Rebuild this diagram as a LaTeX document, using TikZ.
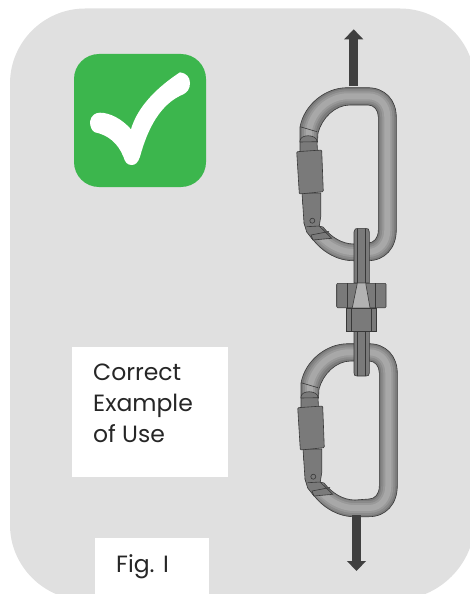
\documentclass[tikz,border=0pt]{standalone}
\usepackage{fontspec}
\setmainfont{Poppins}
\usepackage{xcolor}
\usetikzlibrary{arrows.meta,positioning}
\definecolor{panelgray}{HTML}{E0E0E0}
\definecolor{okgreen}{HTML}{3CB64D}
\definecolor{pullgray}{HTML}{404040}

\begin{document}
\begin{tikzpicture}[
    x=1pt,
    y=-1pt,
    panel/.style={fill=panelgray},
    badge/.style={fill=okgreen, rounded corners=25pt},
    tick/.style={fill=white},
    labelbox/.style={fill=white},
    label/.style={
      anchor=north west,
      align=left,
      inner sep=0pt,
      text=black!85,
      font=\fontsize{23.5}{31}\selectfont
    },
    pull/.style={
      -{Triangle[length=10pt,width=18.5pt]},
      line width=9.3pt,
      draw=pullgray
    },
    outline/.style={draw=black!78, line width=0.6pt},
    metal/.style={
      outline,
      left color=black!52,
      middle color=black!30,
      right color=black!52
    },
    carabiner/.pic={
      \def\bandpath{(300,142) -- (300,127) .. controls (304,105) and (325,87.7) .. (347,87.7)
        -- (368,87.7) .. controls (385,87.7) and (396.3,100) .. (396.3,117)
        -- (396.3,230) .. controls (396.3,248) and (385,260.7) .. (368,260.7)
        -- (353,260.7) .. controls (333,260.7) and (312,246) .. (304,223)
        -- (323,227) .. controls (331,237) and (342,244) .. (354,244)
        -- (368,243) .. controls (374,243) and (378.3,238) .. (378.3,230)
        -- (378.3,117) .. controls (378.3,110) and (374,105) .. (368,105)
        -- (350,105) .. controls (335,105) and (322,118) .. (318,133) -- (317.5,142) -- cycle}
      \fill[black!52] \bandpath;
      \begin{scope}
        \clip \bandpath;
        \foreach \wd/\shade in {14/46, 10/40, 6/34} {
          \draw[black!\shade, line width=\wd pt]
            (309,142) -- (309,130) .. controls (313,110) and (330,96.3) .. (348,96.3)
            -- (368,96.3) .. controls (380,96.3) and (387.3,105) .. (387.3,117)
            -- (387.3,230) .. controls (387.3,242) and (380,252) .. (368,252)
            -- (353,252) .. controls (338,252) and (320,241) .. (313,225);
        }
      \end{scope}
      \draw[outline] \bandpath;
      \draw[outline] (300,126.7) -- (317,131.7);
      % nose and collar above the barrel
      \draw[metal] (300,152) -- (300,141) .. controls (300,134) and (316,134) .. (317,141)
        -- (317.5,152) -- cycle;
      \draw[outline] (300,142) -- (317.3,141.7);
      % shank below the barrel
      \draw[metal] (302,193) -- (320.7,193) -- (320.7,216.7) -- (319.3,226)
        -- (331.7,238.3) -- (313,240) -- (306.7,232) -- (304,223) -- cycle;
      \draw[outline] (306.7,226.7) -- (319.3,226);
      \draw[outline] (313,240) -- (311,235) -- (329,231.5);
      \draw[outline] (312.3,220.7) circle[radius=2.5];
      % barrel
      \draw[metal, rounded corners=1pt] (296.7,151.7) -- (321.7,150) -- (323.3,191.7)
        -- (299.3,194) -- cycle;
    }
  ]
    \useasboundingbox (0,0) rectangle (470,594);
    \clip (0,0) rectangle (470,594);

    \fill[panel] (85,8.5) -- (400,8.5) .. controls (441,8.5) and (475,42) .. (475,83.5)
      -- (475,520) .. controls (475,564) and (439,600) .. (395,600)
      -- (85,600) .. controls (44,600) and (10,566) .. (10,525)
      -- (10,83.5) .. controls (10,42) and (44,8.5) .. (85,8.5) -- cycle;

    % check mark badge
    \fill[badge] (74,54) rectangle (206,187);
    \fill[tick] (90,121.7) .. controls (91,115) and (96,112.7) .. (100,112.7)
      .. controls (110,112.7) and (122,119) .. (131,129.3)
      .. controls (136,112) and (150,92) .. (180,72.3)
      .. controls (186,73) and (190,77) .. (190,83)
      .. controls (190,89) and (187,92.5) .. (183.3,94.3)
      .. controls (165,102) and (150,120) .. (140,156.7)
      .. controls (138,163) and (135,165) .. (131.7,165)
      .. controls (127,165) and (125,162) .. (123.5,157)
      .. controls (118,143) and (108,135) .. (95,132.3)
      .. controls (92,131) and (90,127) .. (90,121.7) -- cycle;

    % labels
    \fill[labelbox] (72,347) rectangle (228,477);
    \fill[labelbox] (95,538) rectangle (209,594);
    \node[label] (usage) at (93,364) {Correct\\Example\\of Use};
    \node[label] (figno) at (116,554) {Fig. I};

    % upper and lower carabiner
    \pic (upper) at (0,0) {carabiner};
    \pic (lower) at (1,256) {carabiner};

    % pull arrows
    \coordinate (upperend) at (353.7,86);
    \coordinate (uppertip) at (353.7,29.3);
    \coordinate (lowerend) at (356.5,515);
    \coordinate (lowertip) at (356.5,571);
    \draw[pull] (upperend) -- (uppertip);
    \draw[pull] (lowerend) -- (lowertip);

    % swivel between the two
    \draw[metal] (354,283) -- (354,232) .. controls (354,229) and (356,228.3) .. (358,228.3)
      -- (365,228.3) .. controls (368,228.3) and (369.3,229) .. (369.3,232) -- (369.3,283) -- cycle;
    \draw[outline] (357.3,229) -- (357.3,283) (365.7,229) -- (365.7,283);
    \draw[metal] (354,331) -- (369.3,331) -- (369.3,373) .. controls (369.3,375.5) and (368,376) .. (366,376)
      -- (357,376) .. controls (355,376) and (354,375.5) .. (354,373) -- cycle;
    \draw[outline] (357.3,331) -- (357.3,376) (365.7,331) -- (365.7,376);
    \draw[metal, rounded corners=1pt] (336.7,283.3) rectangle (386,307.7);
    \draw[outline] (347.7,283.3) -- (347.7,307.7) (375,283.3) -- (375,307.7);
    \fill[black!30] (357.3,283.3) -- (365.7,283.3) -- (370,307.7) -- (352.3,307.7) -- cycle;
    \draw[outline] (357.3,283.3) -- (352.3,307.7) (365.7,283.3) -- (370,307.7);
    \draw[metal] (346.7,308.3) rectangle (376,331);
    \draw[outline] (351.7,308.3) -- (351.7,331) (371,308.3) -- (371,331);
  \end{tikzpicture}
\end{document}
